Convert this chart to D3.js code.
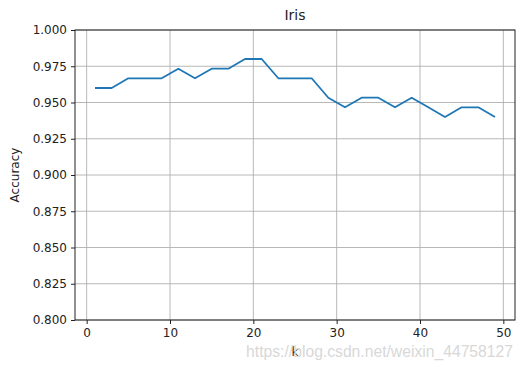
<!DOCTYPE html>
<html>
<head>
<meta charset="utf-8">
<script src="https://cdn.jsdelivr.net/npm/d3@7"></script>
<style>
  body { margin: 0; background: #fff; }
  text { font-family: "DejaVu Sans", sans-serif; }
</style>
</head>
<body>
<div class="graph"></div>
<script>
const w = 531;
const h = 370;
const margin = {top: 30, right: 16, bottom: 50, left: 75};

// odd k values and their accuracy on Iris
const kValues = [1, 3, 5, 7, 9, 11, 13, 15, 17, 19, 21, 23, 25, 27, 29, 31, 33, 35, 37, 39, 41, 43, 45, 47, 49];
const accuracy = [0.96, 0.96, 0.9667, 0.9667, 0.9667, 0.9733, 0.9667, 0.9733, 0.9733, 0.98, 0.98,
                  0.9667, 0.9667, 0.9667, 0.9533, 0.9467, 0.9533, 0.9533, 0.9467, 0.9533, 0.9467,
                  0.94, 0.9467, 0.9467, 0.94];
const xTicks = [0, 10, 20, 30, 40, 50];
const yTicks = [0.800, 0.825, 0.850, 0.875, 0.900, 0.925, 0.950, 0.975, 1.000];

const canvas = d3.select('.graph')
  .append("svg")
  .attr("width", w)
  .attr("height", h);

const xScale = d3.scaleLinear()
  .domain([-1.4, 51.4])
  .range([margin.left, w - margin.right]);

const yScale = d3.scaleLinear()
  .domain([0.8, 1.0])
  .range([h - margin.bottom, margin.top]);

// grid
canvas.append("g")
  .selectAll("line.vx")
  .data(xTicks)
  .enter().append("line")
  .attr("x1", d => xScale(d)).attr("x2", d => xScale(d))
  .attr("y1", margin.top).attr("y2", h - margin.bottom)
  .attr("stroke", "#b0b0b0").attr("stroke-width", 0.9);

canvas.append("g")
  .selectAll("line.hy")
  .data(yTicks)
  .enter().append("line")
  .attr("x1", margin.left).attr("x2", w - margin.right)
  .attr("y1", d => yScale(d)).attr("y2", d => yScale(d))
  .attr("stroke", "#b0b0b0").attr("stroke-width", 0.9);

// line
const line = d3.line()
  .x((d, i) => xScale(kValues[i]))
  .y(d => yScale(d));

canvas.append("path")
  .datum(accuracy)
  .attr("fill", "none")
  .attr("stroke", "#1f77b4")
  .attr("stroke-width", 1.8)
  .attr("stroke-linejoin", "round")
  .attr("d", line);

// axes
const xAxis = canvas.append("g")
  .attr("transform", `translate(0, ${h - margin.bottom})`)
  .call(d3.axisBottom(xScale).tickValues(xTicks).tickSize(4).tickPadding(4).tickSizeOuter(0));

const yAxis = canvas.append("g")
  .attr("transform", `translate(${margin.left}, 0)`)
  .call(d3.axisLeft(yScale).tickValues(yTicks).tickFormat(d3.format(".3f")).tickSize(4).tickPadding(4).tickSizeOuter(0));

[xAxis, yAxis].forEach(a => {
  a.select(".domain").remove();
  a.selectAll("text").style("font-size", "12px").attr("fill", "#222");
  a.selectAll("line").attr("stroke", "#222");
});

// frame
canvas.append("rect")
  .attr("x", margin.left)
  .attr("y", margin.top)
  .attr("width", w - margin.left - margin.right)
  .attr("height", h - margin.top - margin.bottom)
  .attr("fill", "none")
  .attr("stroke", "#222")
  .attr("stroke-width", 1);

// labels
canvas.append('text')
  .attr('x', (margin.left + w - margin.right) / 2)
  .attr('y', 20)
  .attr('text-anchor', 'middle')
  .style('font-size', '14px')
  .attr('fill', '#222')
  .text('Iris');

canvas.append('text')
  .attr('x', (margin.left + w - margin.right) / 2)
  .attr('y', 356)
  .attr('text-anchor', 'middle')
  .style('font-size', '12px')
  .attr('fill', '#222')
  .text('k');

canvas.append('text')
  .attr('transform', 'rotate(-90)')
  .attr('x', -(margin.top + h - margin.bottom) / 2)
  .attr('y', 19)
  .attr('text-anchor', 'middle')
  .style('font-size', '12px')
  .attr('fill', '#222')
  .text('Accuracy');

// watermark
canvas.append('text')
  .attr('x', 513)
  .attr('y', 357)
  .attr('text-anchor', 'end')
  .style('font-family', 'Arial, "Liberation Sans", sans-serif')
  .style('font-size', '15.7px')
  .attr('fill', '#d8d8d8')
  .text('https://blog.csdn.net/weixin_44758127');
</script>
</body>
</html>
